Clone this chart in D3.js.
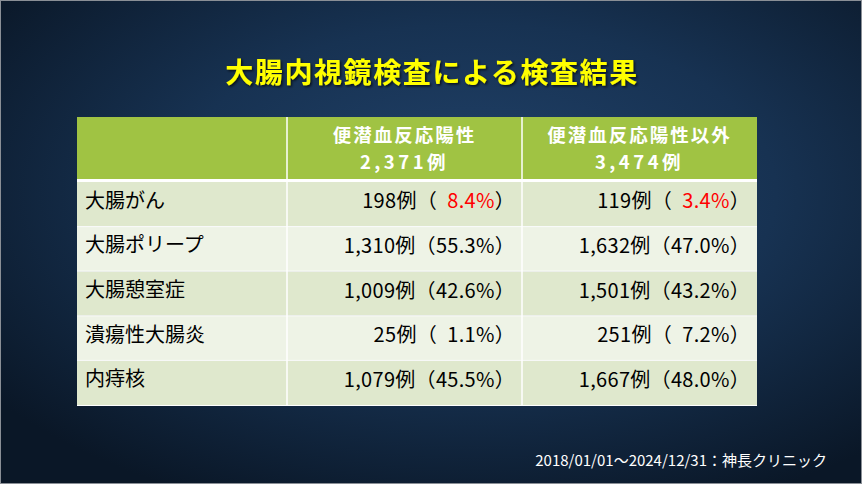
<!DOCTYPE html>
<html><head><meta charset="utf-8">
<script src="https://cdn.jsdelivr.net/npm/d3@7"></script>
<style>
html,body{margin:0;padding:0;background:#0c1a2b;}
svg{display:block;}
</style></head>
<body>
<script>
const title = '大腸内視鏡検査による検査結果';
const categories = ['大腸がん','大腸ポリープ','大腸憩室症','潰瘍性大腸炎','内痔核'];
const groupNames = ['便潜血反応陽性','便潜血反応陽性以外'];
const groupTotals = [2371, 3474];
const posCounts = [198, 1310, 1009, 25, 1079];
const posPct = [8.4, 55.3, 42.6, 1.1, 45.5];
const negCounts = [119, 1632, 1501, 251, 1667];
const negPct = [3.4, 47.0, 43.2, 7.2, 48.0];
const highlightRows = ['大腸がん'];
const footer = '2018/01/01～2024/12/31：神長クリニック';

const W = 862, H = 484;
const svg = d3.select('body').append('svg').attr('width', W).attr('height', H);
const defs = svg.append('defs');
const rg = defs.append('radialGradient').attr('id','bg').attr('cx','55%').attr('cy','40%').attr('r','70%');
rg.append('stop').attr('offset','0%').attr('stop-color','#21426a');
rg.append('stop').attr('offset','50%').attr('stop-color','#173252');
rg.append('stop').attr('offset','100%').attr('stop-color','#0a1727');
svg.append('rect').attr('width',W).attr('height',H).attr('fill','url(#bg)');
svg.append('rect').attr('x',0.5).attr('y',0.5).attr('width',W-1).attr('height',H-1)
  .attr('fill','none').attr('stroke','#8a8f96').attr('stroke-width',1);

const fontJP = "'Noto Sans CJK JP','Noto Sans',sans-serif";

const f = defs.append('filter').attr('id','sh').attr('x','-10%').attr('y','-30%').attr('width','120%').attr('height','160%');
f.append('feDropShadow').attr('dx',1.5).attr('dy',1.5).attr('stdDeviation',1).attr('flood-color','#000').attr('flood-opacity',0.7);

svg.append('text').attr('x',432).attr('y',71).attr('text-anchor','middle')
  .attr('dominant-baseline','central')
  .attr('font-family',fontJP).attr('font-weight',700).attr('font-size',28)
  .attr('letter-spacing',1.6)
  .attr('fill','#ffff00').attr('filter','url(#sh)').text(title);

const colX = d3.scaleOrdinal().domain(['label','pos','neg']).range([77, 287, 522]);
const colW = d3.scaleOrdinal().domain(['label','pos','neg']).range([210, 235, 235]);
const tableLeft = 77, tableRight = 757;
const headerTop = 117, headerBottom = 179;
const y = d3.scaleBand().domain(categories).range([182, 405]).paddingInner(0);

const g = svg.append('g');
['label','pos','neg'].forEach(c => {
  g.append('rect').attr('x',colX(c)).attr('y',headerTop).attr('width',colW(c)).attr('height',headerBottom-headerTop)
    .attr('fill','#a0c343');
});
g.append('rect').attr('x',tableLeft).attr('y',headerBottom).attr('width',tableRight-tableLeft).attr('height',3).attr('fill','#ffffff');

categories.forEach((cat,i) => {
  g.append('rect').attr('x',tableLeft).attr('y',y(cat)).attr('width',tableRight-tableLeft).attr('height',y.bandwidth())
    .attr('fill', i%2===0 ? '#dfe8cd' : '#eef3e6');
  if (i>0) g.append('line').attr('x1',tableLeft).attr('x2',tableRight).attr('y1',y(cat)).attr('y2',y(cat))
    .attr('stroke','#ffffff').attr('stroke-width',1);
});
g.append('line').attr('x1',tableLeft).attr('x2',tableRight).attr('y1',405.5).attr('y2',405.5).attr('stroke','#ffffff').attr('stroke-width',1);
['pos','neg'].forEach(c => {
  g.append('line').attr('x1',colX(c)).attr('x2',colX(c)).attr('y1',headerTop).attr('y2',406)
    .attr('stroke','#ffffff').attr('stroke-width',1.5);
});

const groups = [{key:'pos', name:groupNames[0], total:groupTotals[0]},{key:'neg', name:groupNames[1], total:groupTotals[1]}];
const fmt = d3.format(',');
groups.forEach(gr => {
  const cx = colX(gr.key) + colW(gr.key)/2;
  g.append('text').attr('x',cx).attr('y',134).attr('text-anchor','middle').attr('dominant-baseline','central')
    .attr('font-family',fontJP).attr('font-weight',700).attr('font-size',18.5).attr('fill','#ffffff')
    .attr('letter-spacing',2).text(gr.name);
  g.append('text').attr('x',cx).attr('y',161).attr('text-anchor','middle').attr('dominant-baseline','central')
    .attr('font-family',fontJP).attr('font-weight',700).attr('font-size',18.5).attr('fill','#ffffff')
    .attr('letter-spacing',3.5).text(fmt(gr.total)+'例');
});

const bodySize = 20;
categories.forEach((cat,i) => {
  const cy = y(cat) + y.bandwidth()/2 - 5;
  g.append('text').attr('x',85).attr('y',cy).attr('dominant-baseline','central')
    .attr('font-family',fontJP).attr('font-size',bodySize).attr('fill','#000').text(cat);
  [['pos',posCounts,posPct],['neg',negCounts,negPct]].forEach(([k,counts,pcts]) => {
    const t = g.append('text').attr('x',colX(k)+colW(k)-7).attr('y',cy).attr('text-anchor','end')
      .attr('dominant-baseline','central').attr('font-family',fontJP).attr('font-size',bodySize)
      .attr('letter-spacing',0.3).attr('fill','#000');
    const p = pcts[i].toFixed(1);
    t.append('tspan').text(fmt(counts[i])+'例（' + (pcts[i] < 10 ? '\u2002' : ''));
    t.append('tspan').attr('fill', highlightRows.includes(cat) ? '#ff0000' : '#000').text(p+'%');
    t.append('tspan').text('）');
  });
});

svg.append('text').attr('x',827).attr('y',459).attr('text-anchor','end').attr('dominant-baseline','central')
  .attr('font-family',fontJP).attr('font-size',15).attr('fill','#ffffff').text(footer);
</script>
</body></html>
